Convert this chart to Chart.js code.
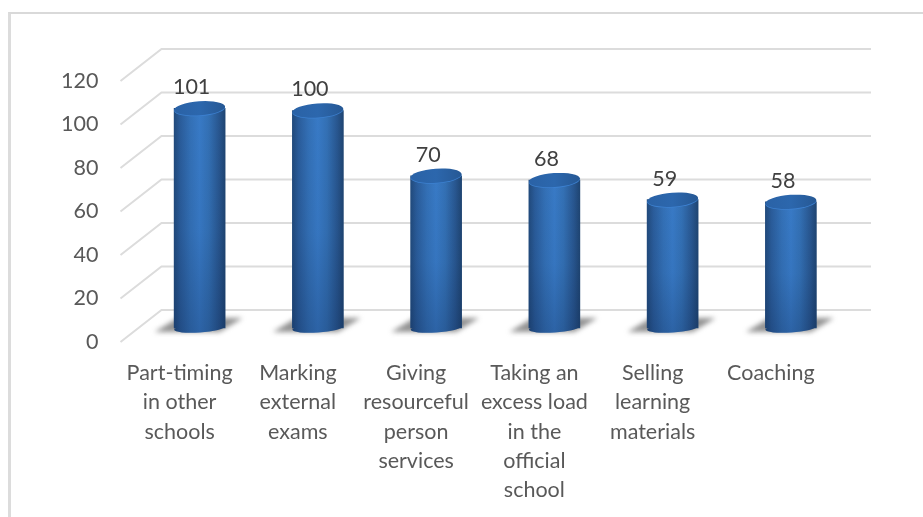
<!DOCTYPE html>
<html>
<head>
<meta charset="utf-8">
<style>
  html, body { margin: 0; padding: 0; background: #fff; overflow: hidden; }
  #wrap { position: relative; width: 923px; height: 517px; }
  #frame { position: absolute; left: 8px; top: 12px; right: 0; bottom: 0;
           border-left: 3px solid #dcdcdc; border-top: 2px solid #d9d9d9; pointer-events: none; }
  canvas { position: absolute; left: 0; top: 0; }
</style>
<script src="https://cdn.jsdelivr.net/npm/chart.js@4/dist/chart.umd.min.js"></script>
</head>
<body>
<div id="wrap">
  <canvas id="chart" width="923" height="517"></canvas>
  <div id="frame"></div>
</div>
<script>
const categories = [
  ['Part-timing', 'in other', 'schools'],
  ['Marking', 'external', 'exams'],
  ['Giving', 'resourceful', 'person', 'services'],
  ['Taking an', 'excess load', 'in the', 'official', 'school'],
  ['Selling', 'learning', 'materials'],
  ['Coaching']
];
const counts = [101, 100, 70, 68, 59, 58];
const axisMin = 0;
const axisMax = 120;
const axisStep = 20;

// Oblique projection: how far the back wall and the bar row sit from the front plane.
const WALL_DX = 41, WALL_DY = -32;
const BAR_DX = 20, BAR_DY = -14;
const BAR_WIDTH = 51;
const RX = BAR_WIDTH / 2, RY_TOP = 7, RY_BOTTOM = 4.5, TILT = -0.07;
const TEXT = '#595959';
const GRID = '#dcdcdc';
const FONT = 'Lato, Carlito, sans-serif';
const FONT_SIZE = 21.5;

function sideGradient(ctx, cx, stops) {
  const g = ctx.createLinearGradient(cx - RX, 0, cx + RX, 0);
  stops.forEach(([p, c]) => g.addColorStop(p, c));
  return g;
}
const BODY_STOPS = [[0, '#214a7c'], [0.12, '#2a5c9a'], [0.32, '#3370b6'],
                    [0.5, '#387ac6'], [0.68, '#3370b4'], [0.88, '#28568f'], [1, '#1f4572']];
const CAP_STOPS = [[0, '#2a62a6'], [0.5, '#2c67ad'], [1, '#265894']];

const cylinderPlugin = {
  id: 'cylinders',
  beforeDraw(chart) {
    // Floor and wall rules of the oblique frame
    const { ctx, scales: { y }, chartArea: a } = chart;
    ctx.save();
    ctx.lineWidth = 2;
    ctx.strokeStyle = GRID;
    y.ticks.forEach(t => {
      const py = y.getPixelForValue(t.value);
      ctx.beginPath();
      ctx.moveTo(a.left, py);
      ctx.lineTo(a.left + WALL_DX, py + WALL_DY);
      ctx.lineTo(a.right + WALL_DX, py + WALL_DY);
      ctx.stroke();
    });
    ctx.restore();
  },
  beforeDatasetsDraw(chart) {
    const { ctx } = chart;
    const meta = chart.getDatasetMeta(0);
    ctx.save();
    ctx.translate(BAR_DX, BAR_DY);
    meta.data.forEach(bar => {
      const cx = bar.x, by = bar.base;
      // Cast shadow on the floor
      ctx.save();
      ctx.filter = 'blur(2.5px)';
      ctx.fillStyle = 'rgba(100,100,100,0.7)';
      ctx.beginPath();
      ctx.moveTo(cx - 45, by + 4);
      ctx.lineTo(cx - 22, by - 10);
      ctx.lineTo(cx + 43, by - 10);
      ctx.lineTo(cx + 20, by + 4);
      ctx.closePath();
      ctx.fill();
      ctx.restore();
    });
  },
  afterDatasetsDraw(chart) {
    const { ctx } = chart;
    const meta = chart.getDatasetMeta(0);
    meta.data.forEach(bar => {
      const cx = bar.x, ty = bar.y, by = bar.base;
      // Rounded foot of the cylinder, joined to the bar's side shading
      ctx.fillStyle = sideGradient(ctx, cx, BODY_STOPS);
      ctx.beginPath();
      ctx.ellipse(cx, by, RX, RY_BOTTOM, TILT, 0, Math.PI * 2);
      ctx.fill();
      // Darker lower body, foot included
      const shade = ctx.createLinearGradient(0, ty, 0, by + RY_BOTTOM);
      shade.addColorStop(0, 'rgba(10,30,70,0)');
      shade.addColorStop(0.55, 'rgba(10,30,70,0.05)');
      shade.addColorStop(1, 'rgba(10,30,70,0.25)');
      ctx.fillStyle = shade;
      ctx.beginPath();
      ctx.moveTo(cx - RX, ty);
      ctx.lineTo(cx + RX, ty);
      ctx.lineTo(cx + RX, by);
      ctx.ellipse(cx, by, RX, RY_BOTTOM, TILT, 0, Math.PI);
      ctx.closePath();
      ctx.fill();
      // Top cap with a lighter rim on its near edge
      ctx.fillStyle = '#3c80d0';
      ctx.beginPath();
      ctx.ellipse(cx, ty + 0.8, RX, RY_TOP, TILT, 0, Math.PI * 2);
      ctx.fill();
      ctx.fillStyle = sideGradient(ctx, cx, CAP_STOPS);
      ctx.beginPath();
      ctx.ellipse(cx, ty, RX, RY_TOP, TILT, 0, Math.PI * 2);
      ctx.fill();
    });
    ctx.restore();
    // Value labels sit above the bars, nearer the front plane
    ctx.save();
    ctx.font = FONT_SIZE + 'px ' + FONT;
    ctx.fillStyle = '#404040';
    ctx.textAlign = 'center';
    ctx.textBaseline = 'middle';
    meta.data.forEach((bar, i) => {
      ctx.fillText(String(counts[i]), bar.x + 12, bar.y - 35);
    });
    ctx.restore();
  }
};

new Chart(document.getElementById('chart'), {
  type: 'bar',
  data: {
    labels: categories,
    datasets: [{
      data: counts,
      barThickness: BAR_WIDTH,
      borderWidth: 0,
      clip: false,
      backgroundColor(c) {
        const x = c.chart.scales.x;
        const cx = (x && c.dataIndex !== undefined) ? x.getPixelForValue(c.dataIndex) : NaN;
        return Number.isFinite(cx) ? sideGradient(c.chart.ctx, cx, BODY_STOPS) : '#2f6ab0';
      }
    }]
  },
  plugins: [cylinderPlugin],
  options: {
    responsive: false,
    animation: false,
    events: [],
    layout: { padding: { top: 81, right: 93, bottom: 0, left: 0 } },
    plugins: { legend: { display: false }, tooltip: { enabled: false } },
    scales: {
      x: {
        grid: { display: false },
        border: { display: false },
        afterFit(s) { s.height = 175; },
        ticks: {
          color: TEXT,
          maxRotation: 0,
          autoSkip: false,
          padding: 9,
          font: { family: FONT, size: FONT_SIZE, lineHeight: 1.35 }
        }
      },
      y: {
        min: axisMin,
        max: axisMax,
        grid: { display: false },
        border: { display: false },
        afterFit(s) { s.width = 120.5; },
        ticks: {
          stepSize: axisStep,
          color: TEXT,
          padding: 14,
          font: { family: FONT, size: FONT_SIZE }
        }
      }
    }
  }
});
</script>
</body>
</html>
